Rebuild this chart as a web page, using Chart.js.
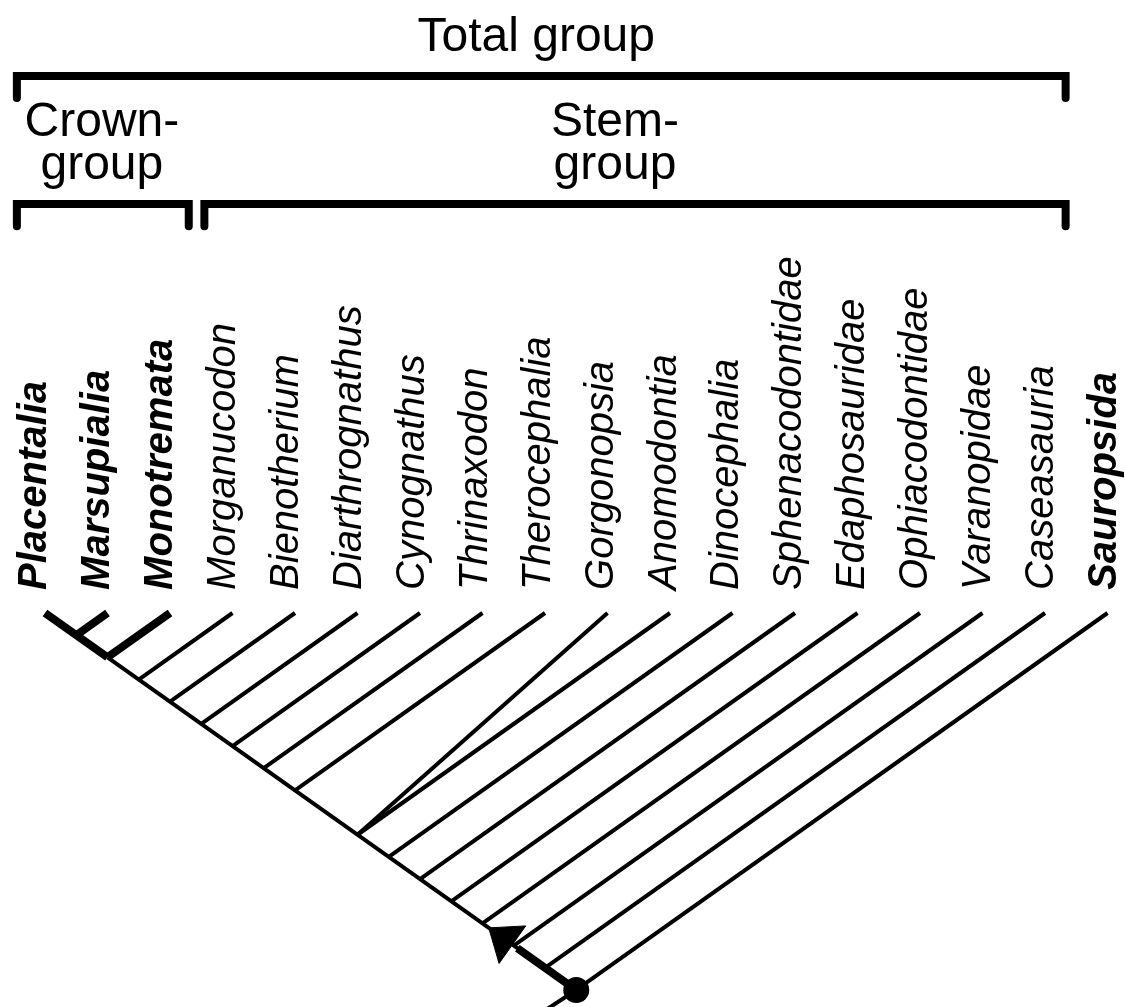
<!DOCTYPE html>
<html>
<head>
<meta charset="utf-8">
<title>Total group, crown-group and stem-group of mammals</title>
<script src="https://cdn.jsdelivr.net/npm/chart.js@4.4.1/dist/chart.umd.min.js"></script>
<style>
  html, body { margin: 0; padding: 0; background: #fff; }
  #wrap { width: 1125px; height: 1007px; }
</style>
</head>
<body>
<div id="wrap"><canvas id="cladogram"></canvas></div>
<script>
// tips, left to right
const taxa = ['Placentalia', 'Marsupialia', 'Monotremata', 'Morganucodon', 'Bienotherium',
  'Diarthrognathus', 'Cynognathus', 'Thrinaxodon', 'Therocephalia', 'Gorgonopsia', 'Anomodontia',
  'Dinocephalia', 'Sphenacodontidae', 'Edaphosauridae', 'Ophiacodontidae', 'Varanopidae',
  'Caseasauria', 'Sauropsida'];
// node on the main stem where each taxon branches off (0 = top of the stem, 17 = root)
const attachNode = [0, 1, 2, 3, 4, 5, 6, 7, 8, 10, 10, 11, 12, 13, 14, 15, 16, 17];
const boldTaxa = ['Placentalia', 'Marsupialia', 'Monotremata', 'Sauropsida'];
const crownBranches = ['Marsupialia', 'Monotremata'];

// brackets over the tips
const groupNames = [['Total group'], ['Crown-', 'group'], ['Stem-', 'group']];
const groupFirst = [0, 0, 3];
const groupLast = [16, 2, 16];
const groupRow = [0, 1, 1];

// arrow runs from the root node up the stem to this stem position
const rootNode = 17;
const arrowReach = 14.2;

// ---- layout (pixels per unit, where the tips sit) ----
const W = 1125, H = 1007;
const PX_X = 62.5, PX_Y = 44.35, LEFT = 45, TIP_Y = 613;
const ROW_DEPTH = [-12.11, -9.22];
const TICK = 0.5;
const GROUP_LABEL_X = [7.86, 0.91, 9.12];
const FONT = '"Liberation Sans", Arial, Helvetica, sans-serif';

const nodePos = r => ({ x: r / 2, y: r / 2 });

const lineSet = (data, width, extra) => Object.assign({
  data: data,
  borderColor: '#000',
  borderWidth: width,
  pointRadius: 0,
  fill: false
}, extra || {});

const datasets = [];
// main stem: thick through the crown, thin below
datasets.push(lineSet([nodePos(0), nodePos(2)], 8));
datasets.push(lineSet([nodePos(2), nodePos(rootNode)], 4));
// side branches
taxa.forEach((name, i) => {
  if (i === 0) return;
  const w = crownBranches.includes(name) ? 8 : 4;
  datasets.push(lineSet([{ x: i, y: 0 }, nodePos(attachNode[i])], w));
});
// short root below the dot
const root = nodePos(rootNode);
datasets.push(lineSet([root, { x: root.x - 0.65, y: root.y + 0.6 }], 4));

// arrow up the stem
const tipT = arrowReach / 2;
const headLen = 29, headHalf = 23;
const diag = Math.hypot(PX_X, PX_Y);
const baseT = tipT + headLen / diag;
const perpX = (PX_Y / diag) * headHalf / PX_X;
const perpY = (PX_X / diag) * headHalf / PX_Y;
datasets.push(lineSet([root, { x: baseT + 0.08, y: baseT + 0.08 }], 8));
datasets.push(lineSet([
  { x: tipT, y: tipT },
  { x: baseT + perpX, y: baseT - perpY },
  { x: baseT - perpX, y: baseT + perpY },
  { x: tipT, y: tipT }
], 1, { fill: 'shape', backgroundColor: '#000' }));
// dot at the root
datasets.push({
  data: [root],
  showLine: false,
  pointRadius: 13,
  pointBackgroundColor: '#000',
  pointBorderColor: '#000',
  pointBorderWidth: 0
});

// brackets
groupNames.forEach((g, k) => {
  const a = groupFirst[k] - 0.45;
  const b = groupLast[k] + (groupLast[k] === 2 ? 0.3 : 0.33);
  const yb = ROW_DEPTH[groupRow[k]];
  datasets.push(lineSet([
    { x: a, y: yb + TICK }, { x: a, y: yb }, { x: b, y: yb }, { x: b, y: yb + TICK }
  ], 8, { borderCapStyle: 'round', borderJoinStyle: 'miter' }));
});

const textPlugin = {
  id: 'cladeText',
  afterDatasetsDraw(chart) {
    const { ctx } = chart;
    const xs = chart.scales.x, ys = chart.scales.y;
    ctx.save();
    ctx.fillStyle = '#000';
    // taxon names, read bottom to top
    taxa.forEach((name, i) => {
      const px = xs.getPixelForValue(i) + 1 + 0.45 * i;
      const py = ys.getPixelForValue(-0.52);
      ctx.save();
      ctx.translate(px, py);
      ctx.rotate(-Math.PI / 2);
      ctx.font = (boldTaxa.includes(name) ? 'italic bold ' : 'italic ') + '40px ' + FONT;
      ctx.textAlign = 'left';
      ctx.textBaseline = 'alphabetic';
      ctx.fillText(name, 0, 0);
      ctx.restore();
    });
    // bracket names
    ctx.font = '48px ' + FONT;
    ctx.textAlign = 'center';
    ctx.textBaseline = 'alphabetic';
    groupNames.forEach((lines, k) => {
      const bar = ys.getPixelForValue(ROW_DEPTH[groupRow[k]]);
      const cx = xs.getPixelForValue(GROUP_LABEL_X[k]);
      lines.forEach((t, j) => {
        const fromBottom = lines.length - 1 - j;
        ctx.fillText(t, cx, bar - 25 - fromBottom * 43);
      });
    });
    ctx.restore();
  }
};

new Chart(document.getElementById('cladogram'), {
  type: 'line',
  data: { datasets: datasets },
  options: {
    responsive: true,
    maintainAspectRatio: false,
    animation: false,
    events: [],
    layout: { padding: 0, autoPadding: false },
    elements: { line: { tension: 0 } },
    plugins: {
      legend: { display: false },
      tooltip: { enabled: false }
    },
    scales: {
      x: { type: 'linear', display: false, min: -LEFT / PX_X, max: (W - LEFT) / PX_X },
      y: { type: 'linear', display: false, reverse: true, min: -TIP_Y / PX_Y, max: (H - TIP_Y) / PX_Y }
    }
  },
  plugins: [textPlugin]
});
</script>
</body>
</html>
